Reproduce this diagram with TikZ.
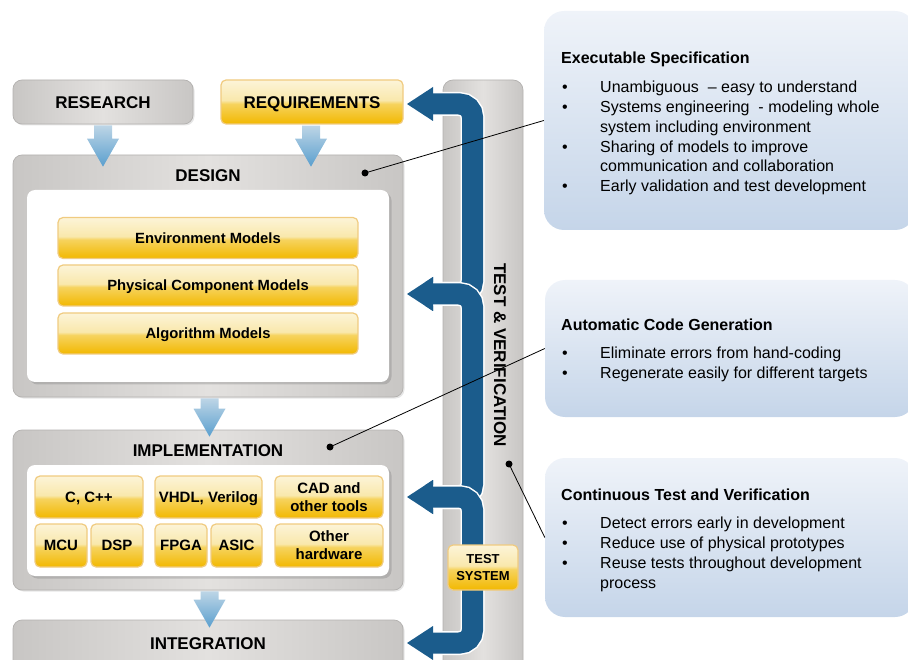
\documentclass[tikz,border=0pt]{standalone}
\usepackage{fontspec}
\setmainfont{Liberation Sans}
\usetikzlibrary{arrows.meta,shadows,calc}

\definecolor{darkblue}{HTML}{1B5C8C}
\definecolor{lbtop}{HTML}{BDD5E6}
\definecolor{lbbot}{HTML}{5A9FCE}
\definecolor{greyedge}{HTML}{C8C6C4}
\definecolor{greymid}{HTML}{E3E1DF}
\definecolor{greyline}{HTML}{B3B1AF}
\definecolor{ybot}{HTML}{F2B800}
\definecolor{ymid}{HTML}{F6D35E}
\definecolor{ylight}{HTML}{F9E8AC}
\definecolor{ytop}{HTML}{FCF4D8}
\definecolor{yborder}{HTML}{F0CB80}
\definecolor{ptop}{HTML}{EFF3F9}
\definecolor{pbot}{HTML}{C5D5E9}

\pgfdeclareverticalshading{ygloss}{100bp}{color(0bp)=(ybot); color(25bp)=(ybot); color(48bp)=(ymid); color(52bp)=(ylight); color(75bp)=(ytop); color(100bp)=(ytop)}

\tikzset{
  greybox/.style={rounded corners=9pt, draw=greyline, line width=0.7pt,
    left color=greyedge, right color=greyedge, middle color=greymid, inner sep=0pt,
    drop shadow={shadow xshift=1.5pt, shadow yshift=-1.5pt, opacity=0.2}},
  whitebox/.style={rounded corners=8pt, fill=white, draw=none, inner sep=0pt,
    drop shadow={shadow xshift=2.5pt, shadow yshift=-2.5pt, opacity=0.35}},
  hdr/.style={font=\bfseries\fontsize{17}{20}\selectfont, inner sep=0pt, text height=12.2pt, text depth=0pt},
  ybox/.style={shade, shading=ygloss, draw=yborder, line width=1.2pt, rounded corners=5pt,
    inner sep=0pt, align=center, font=\bfseries\fontsize{15}{18}\selectfont},
  ybar/.style={ybox, minimum width=300pt, minimum height=41pt,
    font=\bfseries\fontsize{14.8}{18}\selectfont, text height=10.6pt, text depth=0pt},
  ysmall/.style={ybox, minimum height=42pt},
  yone/.style={text height=10.7pt, text depth=0pt},
  colbox/.style={rounded corners=10pt, draw=greyline, line width=0.7pt,
    left color=greyedge, right color=greyedge, middle color=greymid, inner sep=0pt},
  panel/.style={rounded corners=20pt, top color=ptop, bottom color=pbot, draw=none, inner sep=0pt},
  ptext/.style={anchor=base west, inner sep=0pt, font=\fontsize{16}{19.8}\selectfont},
  ptitle/.style={ptext, font=\bfseries\fontsize{16}{19.8}\selectfont},
  lbarrow/.style={top color=lbtop, bottom color=lbbot, draw=none},
  bluearm/.style={draw=darkblue, line width=21pt, rounded corners=13pt,
    {Triangle[length=26pt,width=34pt,line width=0pt]}-{Triangle[length=26pt,width=34pt,line width=0pt]},
    preaction={draw=white, line width=24pt, -}},
  dot/.style={circle, fill=black, inner sep=0pt, minimum size=7pt},
  link/.style={draw=black, line width=0.8pt}
}

\newcommand\flowarrow[4]{%
  \shade[lbarrow] let \p1=(#2.south), \p2=(#3.north) in
    ({(#1-9)*1pt},{\y1-1pt}) -- ({(#1+9)*1pt},{\y1-1pt}) --
    ({(#1+9)*1pt},{\y2-#4pt+28pt}) -- ({(#1+16)*1pt},{\y2-#4pt+28pt}) --
    ({#1*1pt},{\y2-#4pt}) --
    ({(#1-16)*1pt},{\y2-#4pt+28pt}) -- ({(#1-9)*1pt},{\y2-#4pt+28pt}) -- cycle;}

\newcommand\pline[3]{\node[ptext] (#1b) at (562,#2) {•}; \node[ptext] (#1) at (600,#2) {#3};}
\newcommand\pcont[3]{\node[ptext] (#1) at (600,#2) {#3};}

\begin{document}
\begin{tikzpicture}[x=1pt,y=-1pt]
\useasboundingbox (0,0) rectangle (908,660);

% ---------- right panels ----------
\node[panel, minimum width=371pt, minimum height=219pt] (panel1) at (729.5,120.5) {};
\node[panel, minimum width=370pt, minimum height=137pt] (panel2) at (730,348.5) {};
\node[panel, minimum width=370pt, minimum height=159pt] (panel3) at (730,537.5) {};

\node[ptitle] (p1t) at (561,63.7) {Executable Specification};
\pline{p1a}{92.7}{Unambiguous \ – easy to understand}
\pline{p1b}{112.5}{Systems engineering \ - modeling whole}
\pcont{p1c}{132.3}{system including environment}
\pline{p1d}{152.1}{Sharing of models to improve}
\pcont{p1e}{171.9}{communication and collaboration}
\pline{p1f}{191.7}{Early validation and test development}

\node[ptitle] (p2t) at (561,330.7) {Automatic Code Generation};
\pline{p2a}{358.7}{Eliminate errors from hand-coding}
\pline{p2b}{378.5}{Regenerate easily for different targets}

\node[ptitle] (p3t) at (561,500.7) {Continuous Test and Verification};
\pline{p3a}{528.7}{Detect errors early in development}
\pline{p3b}{548.5}{Reduce use of physical prototypes}
\pline{p3c}{568.3}{Reuse tests throughout development}
\pcont{p3d}{588.1}{process}

% ---------- test & verification column ----------
\node[colbox, minimum width=80pt, minimum height=600pt] (tvcol) at (483,380) {};
\node[font=\bfseries\fontsize{17}{20}\selectfont, inner sep=0pt, rotate=-90] (tvlabel) at (500,355) {TEST \& VERIFICATION};

% ---------- left boxes ----------
\node[greybox, hdr, minimum width=180pt, minimum height=44pt] (research) at (103,102) {RESEARCH};
\node[ybox, hdr, minimum width=182pt, minimum height=44pt] (requirements) at (312,102) {REQUIREMENTS};

\node[greybox, minimum width=390pt, minimum height=242pt] (design) at (208,276) {};
\node[hdr] (designlbl) at (208,175) {DESIGN};
\node[whitebox, minimum width=362pt, minimum height=192pt] (designin) at (208,286) {};
\node[ybar] (env) at (208,238) {Environment Models};
\node[ybar] (phys) at (208,285.5) {Physical Component Models};
\node[ybar] (algo) at (208,333.5) {Algorithm Models};

\node[greybox, minimum width=390pt, minimum height=160pt] (impl) at (208,510) {};
\node[hdr] (impllbl) at (208,450) {IMPLEMENTATION};
\node[whitebox, minimum width=362pt, minimum height=111pt] (implin) at (208,520.5) {};
\node[ysmall, yone, minimum width=108pt] (cpp) at (89,497) {C, C++};
\node[ysmall, yone, minimum width=107pt] (vhdl) at (208.5,497) {VHDL, Verilog};
\node[ysmall, minimum width=108pt] (cad) at (329,497) {CAD and\\other tools};
\node[ysmall, yone, minimum width=52pt, minimum height=43pt] (mcu) at (61,545.5) {MCU};
\node[ysmall, yone, minimum width=52pt, minimum height=43pt] (dsp) at (117,545.5) {DSP};
\node[ysmall, yone, minimum width=52pt, minimum height=43pt] (fpga) at (181,545.5) {FPGA};
\node[ysmall, yone, minimum width=51pt, minimum height=43pt] (asic) at (236.5,545.5) {ASIC};
\node[ysmall, minimum width=108pt, minimum height=43pt] (otherhw) at (329,545.5) {Other\\hardware};

\node[greybox, minimum width=390pt, minimum height=60pt] (integ) at (208,650) {};
\node[hdr] (integlbl) at (208,643) {INTEGRATION};

% ---------- light blue flow arrows ----------
\flowarrow{103}{research}{design}{12}
\flowarrow{311}{requirements}{design}{12}
\flowarrow{209.5}{design}{impl}{7}
\flowarrow{209.5}{impl}{integ}{8}

% ---------- dark blue feedback arrows ----------
\coordinate (a1) at (407,104);
\coordinate (a2) at (407,294);
\coordinate (a3) at (407,497);
\coordinate (a4) at (407,643);
\coordinate (b1) at (472.5,104);
\coordinate (b2) at (472.5,294);
\coordinate (b3) at (472.5,497);
\coordinate (b4) at (472.5,643);
\draw[bluearm] (a2) -- (b2) -- (b1) -- (a1);
\draw[bluearm] (a3) -- (b3) -- (b2) -- (a2);
\draw[bluearm] (a4) -- (b4) -- (b3) -- (a3);

\node[ybox, minimum width=70pt, minimum height=45pt, font=\bfseries\fontsize{13}{17}\selectfont] (testsys) at (483,567.5) {TEST\\SYSTEM};

% ---------- callout links ----------
\node[dot] (ddot) at (365,173) {};
\node[dot] (idot) at (330,447) {};
\node[dot] (tdot) at (509,464) {};
\draw[link] (ddot.center) -- (panel1.west);
\draw[link] (idot.center) -- (panel2.west);
\draw[link] (tdot.center) -- (panel3.west);
\end{tikzpicture}
\end{document}
